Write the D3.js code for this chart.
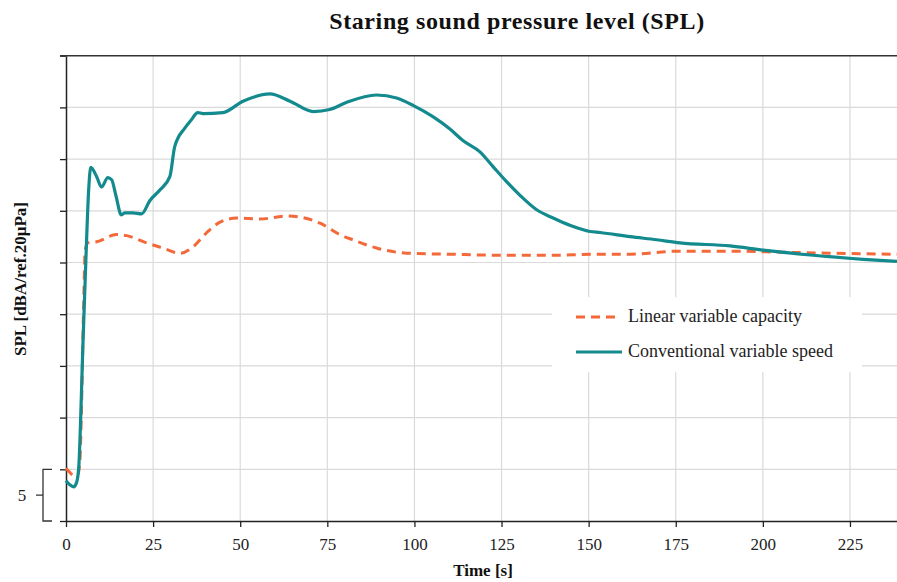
<!DOCTYPE html>
<html>
<head>
<meta charset="utf-8">
<script src="https://cdn.jsdelivr.net/npm/d3@7"></script>
<style>
  body { margin: 0; background: #fff; }
  svg { display: block; }
</style>
</head>
<body>
<script>
// time [s] / SPL values (arbitrary units: 5 per gridline)
var timeTicks = [0, 25, 50, 75, 100, 125, 150, 175, 200, 225];
var gridValues = [0, 5, 10, 15, 20, 25, 30, 35, 40, 45];

var seriesNames = ["Linear variable capacity", "Conventional variable speed"];

var linearTime = [0, 1.1, 2.2, 3.4, 4.0, 4.5, 5.1, 5.5, 6.3, 8.8, 14.5, 17.4, 23.1, 27.8, 32.7, 36.4, 40.4, 44.2, 49.0, 55.6, 63.3, 67.1, 72.9, 78.6, 82.3, 89.1, 97.8, 110.2, 125.4, 139.0, 152.3, 161.9, 176.2, 190.6, 205.0, 219.3, 238.5];
var linearSPL = [5.1, 4.7, 4.4, 4.5, 5.9, 11.7, 21.4, 26.2, 26.9, 27.0, 27.7, 27.6, 26.9, 26.4, 25.9, 26.5, 27.9, 28.9, 29.3, 29.2, 29.5, 29.4, 28.8, 27.7, 27.2, 26.4, 25.9, 25.8, 25.7, 25.7, 25.8, 25.8, 26.1, 26.1, 26.0, 25.9, 25.8];

var convTime = [0, 1.1, 2.2, 3.1, 3.7, 4.2, 4.8, 5.7, 6.5, 7.1, 8.8, 10.2, 12.0, 13.1, 14.3, 15.9, 16.9, 19.2, 21.7, 24.1, 26.9, 29.8, 31.2, 34.1, 36.0, 37.8, 39.3, 45.0, 50.8, 58.5, 64.3, 71.0, 75.7, 80.6, 89.1, 94.9, 99.6, 105.3, 110.2, 113.9, 118.8, 122.5, 126.5, 130.3, 135.1, 139.8, 144.6, 150.4, 153.3, 161.9, 169.5, 176.2, 190.6, 200.1, 214.4, 228.8, 238.5];
var convSPL = [3.9, 3.5, 3.3, 3.8, 5.4, 9.8, 16.5, 25.2, 32.0, 34.2, 33.3, 32.3, 33.2, 33.0, 31.5, 29.6, 29.8, 29.8, 29.7, 31.0, 32.0, 33.3, 36.2, 38.0, 38.8, 39.5, 39.4, 39.5, 40.6, 41.3, 40.6, 39.6, 39.8, 40.5, 41.2, 40.9, 40.2, 39.1, 37.9, 36.8, 35.7, 34.3, 32.8, 31.5, 30.1, 29.3, 28.6, 28.0, 27.9, 27.5, 27.2, 26.9, 26.6, 26.2, 25.7, 25.3, 25.1];

var width = 897, height = 582;
var margin = { top: 55.7, right: 0, bottom: 61, left: 66 };

var svg = d3.select("body").append("svg")
    .attr("width", width)
    .attr("height", height);

var x = d3.scaleLinear()
    .domain([0, 238.5])
    .range([margin.left, width - margin.right]);

var y = d3.scaleLinear()
    .domain([0, 45])
    .range([height - margin.bottom, margin.top]);

var serif = "'Liberation Serif', 'Times New Roman', serif";

// gridlines
svg.append("g")
    .selectAll("line.h")
    .data(gridValues.slice(1, -1))
    .enter().append("line")
    .attr("x1", x(0)).attr("x2", width)
    .attr("y1", d => y(d)).attr("y2", d => y(d))
    .attr("stroke", "#dadada").attr("stroke-width", 1.2);

svg.append("g")
    .selectAll("line.v")
    .data(timeTicks.slice(1))
    .enter().append("line")
    .attr("x1", d => x(d)).attr("x2", d => x(d))
    .attr("y1", y(45)).attr("y2", y(0))
    .attr("stroke", "#dadada").attr("stroke-width", 1.2);

// legend background hides the grid
svg.append("rect")
    .attr("x", 552).attr("y", 297)
    .attr("width", 310).attr("height", 75)
    .attr("fill", "#fff");

// axes
var xAxis = svg.append("g")
    .attr("transform", `translate(0,${y(0)})`)
    .call(d3.axisBottom(x).tickValues(timeTicks).tickSize(6).tickSizeOuter(0));
xAxis.select(".domain").attr("stroke", "#222").attr("stroke-width", 1.5);
xAxis.selectAll(".tick line").attr("stroke", "#222").attr("stroke-width", 1.3);
xAxis.selectAll("text")
    .attr("font-family", serif)
    .attr("font-size", 17)
    .attr("fill", "#222")
    .attr("y", 29)
    .attr("dy", null);

var yAxis = svg.append("g")
    .attr("transform", `translate(${x(0)},0)`)
    .call(d3.axisLeft(y).tickValues(gridValues).tickSize(6).tickFormat("").tickSizeOuter(0));
yAxis.select(".domain").attr("stroke", "#222").attr("stroke-width", 1.5);
yAxis.selectAll(".tick line").attr("stroke", "#222").attr("stroke-width", 1.3);

// top frame line
svg.append("line")
    .attr("x1", x(0) - 6).attr("x2", width)
    .attr("y1", y(45)).attr("y2", y(45))
    .attr("stroke", "#333").attr("stroke-width", 1.5);

// axis break bracket with "5"
var bx = 43, b0 = y(5), b1 = y(0), bm = (b0 + b1) / 2;
svg.append("path")
    .attr("d", `M${bx + 9},${b0}H${bx}V${b1}H${bx + 9}M${bx},${bm}H${bx - 7}`)
    .attr("fill", "none").attr("stroke", "#333").attr("stroke-width", 1.3);
svg.append("text")
    .attr("x", 22).attr("y", bm + 6)
    .attr("text-anchor", "middle")
    .attr("font-family", serif).attr("font-size", 17).attr("fill", "#222")
    .text("5");

// series lines
var line = d3.line()
    .x(d => x(d[0]))
    .y(d => y(d[1]))
    .curve(d3.curveMonotoneX);

var linearData = d3.zip(linearTime, linearSPL);
var convData = d3.zip(convTime, convSPL);

var plot = svg.append("g");
plot.append("path")
    .datum(linearData)
    .attr("d", line)
    .attr("fill", "none")
    .attr("stroke", "#f4693a")
    .attr("stroke-width", 3)
    .attr("stroke-dasharray", "9,6");

plot.append("path")
    .datum(convData)
    .attr("d", line)
    .attr("fill", "none")
    .attr("stroke", "#138a8e")
    .attr("stroke-width", 3.2)
    .attr("stroke-linejoin", "round");

// legend
var legend = svg.append("g");
legend.append("line")
    .attr("x1", 576).attr("x2", 620).attr("y1", 317).attr("y2", 317)
    .attr("stroke", "#f4693a").attr("stroke-width", 3).attr("stroke-dasharray", "9,6");
legend.append("line")
    .attr("x1", 576).attr("x2", 622).attr("y1", 352).attr("y2", 352)
    .attr("stroke", "#138a8e").attr("stroke-width", 3.2);
legend.selectAll("text")
    .data(seriesNames)
    .enter().append("text")
    .attr("x", 628)
    .attr("y", (d, i) => 322 + i * 35)
    .attr("font-family", serif)
    .attr("font-size", 18)
    .attr("fill", "#222")
    .text(d => d);

// titles
svg.append("text")
    .attr("x", 517).attr("y", 29)
    .attr("text-anchor", "middle")
    .attr("font-family", serif).attr("font-weight", "bold").attr("font-size", 24)
    .attr("letter-spacing", 0.6)
    .attr("fill", "#111")
    .text("Staring sound pressure level (SPL)");

svg.append("text")
    .attr("x", 483).attr("y", 576)
    .attr("text-anchor", "middle")
    .attr("font-family", serif).attr("font-weight", "bold").attr("font-size", 17)
    .attr("fill", "#111")
    .text("Time [s]");

svg.append("text")
    .attr("transform", "translate(26,279) rotate(-90)")
    .attr("text-anchor", "middle")
    .attr("font-family", serif).attr("font-weight", "bold").attr("font-size", 17)
    .attr("fill", "#111")
    .text("SPL [dBA/ref.20µPa]");
</script>
</body>
</html>
